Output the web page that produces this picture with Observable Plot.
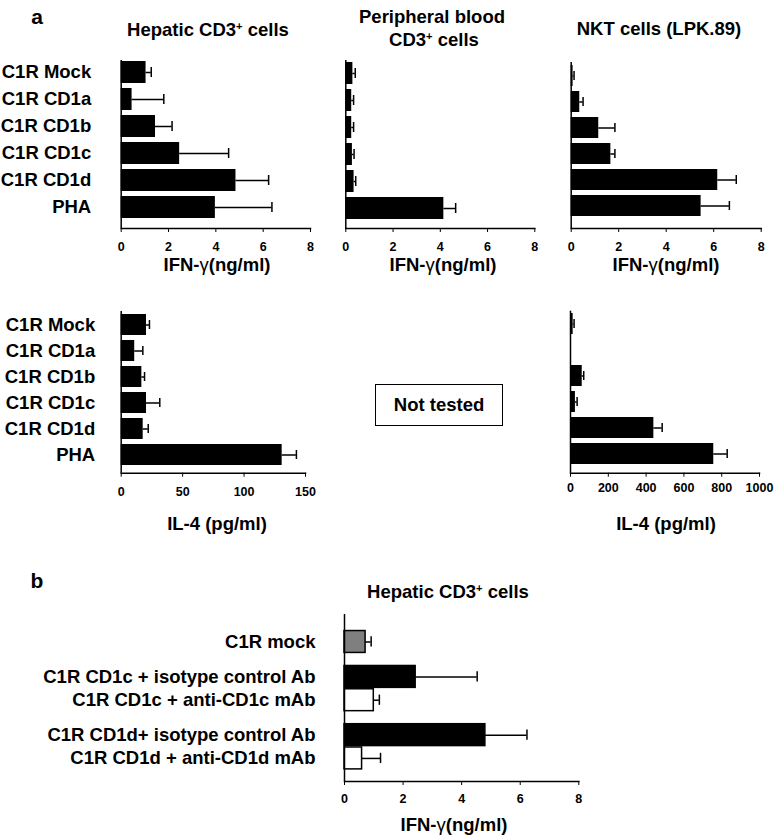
<!DOCTYPE html>
<html><head><meta charset="utf-8">
<script src="https://cdn.jsdelivr.net/npm/d3@7"></script>
<script src="https://cdn.jsdelivr.net/npm/@observablehq/plot@0.6"></script>
<style>
body{margin:0;background:#fff;}
#fig{position:relative;width:777px;height:840px;font-family:"Liberation Sans",Arial,Helvetica,sans-serif;font-weight:bold;color:#000;overflow:hidden;background:#fff}
.lbl{position:absolute;white-space:nowrap;transform:translate(-50%,-50%);line-height:1}
.g{font-weight:normal}
.pl{position:absolute}
.nt{position:absolute;border:1.5px solid #000;box-sizing:border-box;display:flex;align-items:center;justify-content:center;font-size:18.5px}
</style></head><body><div id="fig"></div>
<script>
// ---- data ----
const cellLines = ["C1R Mock","C1R CD1a","C1R CD1b","C1R CD1c","C1R CD1d","PHA"];
const ifnTicks = [0,2,4,6,8];
const il4HepTicks = [0,50,100,150];
const il4NktTicks = [0,200,400,600,800,1000];

// IFN-γ (ng/ml): bar value and upper end of error bar
const hepIfn   = [1.05,0.46,1.45,2.47,4.85,3.98];
const hepIfnHi = [1.27,1.80,2.15,4.54,6.23,6.37];
const pbIfn    = [0.30,0.25,0.25,0.28,0.35,4.15];
const pbIfnHi  = [0.40,0.33,0.33,0.35,0.42,4.65];
const nktIfn   = [0.08,0.36,1.16,1.67,6.17,5.47];
const nktIfnHi = [0.12,0.50,1.84,1.84,6.95,6.66];
// IL-4 (pg/ml)
const hepIl4   = [20.6,11.0,16.8,20.6,17.9,131];
const hepIl4Hi = [23.0,17.6,19.0,31.4,22.0,142.6];
const nktIl4   = [14,0,62,26,441,758];
const nktIl4Hi = [19,0,70,35,485,829];

// panel b
const bLabels = ["C1R mock","C1R CD1c + isotype control Ab","C1R CD1c + anti-CD1c mAb","C1R CD1d+ isotype control Ab","C1R CD1d + anti-CD1d mAb"];
const bGroup = [0,1,1,2,2];
const bTreatment = ["mock","isotype","anti","isotype","anti"];
const bIfn   = [0.72,2.43,1.00,4.81,0.60];
const bIfnHi = [0.91,4.53,1.19,6.23,1.23];

// ---- drawing ----
const fig = document.getElementById("fig");
const FONT = '"Liberation Sans", Arial, Helvetica, sans-serif';
const TICKFS = 12.5;

function addLabel(html, cx, cy, size) {
  const d = document.createElement("div");
  d.className = "lbl";
  d.style.left = cx + "px"; d.style.top = cy + "px"; d.style.fontSize = size + "px";
  d.innerHTML = html;
  fig.appendChild(d);
}
function place(svg, L, T) {
  svg.classList.add("pl");
  svg.style.left = L + "px"; svg.style.top = T + "px";
  fig.appendChild(svg);
}

function hbarPanel(o) {
  const rows = o.cats.map((c, i) => ({cat: c, v: o.vals[i], hi: o.his[i]}));
  const err = rows.filter(d => d.hi > d.v);
  const [L, T, W, H] = o.box;
  const marks = [
    Plot.barX(rows, {x: "v", y: "cat", fill: "black"}),
    Plot.ruleY(err, {y: "cat", x1: "v", x2: "hi", stroke: "black", strokeWidth: 1.5}),
    Plot.tickX(err, {x: "hi", y: "cat", insetTop: 6, insetBottom: 6, stroke: "black", strokeWidth: 1.5}),
    Plot.ruleX([0], {stroke: "black", strokeWidth: 1.5}),
    Plot.frame({anchor: "bottom", stroke: "black", strokeWidth: 1.5}),
    Plot.axisX({ticks: o.ticks, tickSize: 4, tickPadding: o.tickPad, fontSize: TICKFS, label: null, tickFormat: d => String(d)})
  ];
  if (o.showY) marks.push(Plot.axisY({tickSize: 0, tickPadding: o.yPad, fontSize: 18.5, label: null}));
  const svg = Plot.plot({
    width: W, height: H,
    marginLeft: o.x0 - L, marginRight: L + W - o.x1,
    marginTop: o.yTop - T, marginBottom: T + H - o.yAxis,
    style: {fontFamily: FONT, fontWeight: "bold", background: "transparent", overflow: "visible", color: "black", fontSize: "12px"},
    x: {domain: o.domain},
    y: {type: "band", domain: o.cats, paddingInner: 0.18, paddingOuter: 0,
        insetTop: o.b0 - o.yTop, insetBottom: o.yAxis - o.b1, axis: o.showY ? undefined : null},
    marks
  });
  place(svg, L, T);
}

// panel a, row 1 (IFN-γ)
hbarPanel({cats: cellLines, vals: hepIfn, his: hepIfnHi, domain: [0,8], ticks: ifnTicks,
  box: [0,45,325,215], x0: 120.7, x1: 310, yTop: 60, yAxis: 228, b0: 61, b1: 219, tickPad: 10, showY: true, yPad: 30});
hbarPanel({cats: cellLines, vals: pbIfn, his: pbIfnHi, domain: [0,8], ticks: ifnTicks,
  box: [335,45,215,215], x0: 345.3, x1: 534.3, yTop: 60, yAxis: 228, b0: 61, b1: 220, tickPad: 10, showY: false});
hbarPanel({cats: cellLines, vals: nktIfn, his: nktIfnHi, domain: [0,8], ticks: ifnTicks,
  box: [560,45,217,215], x0: 570.7, x1: 760.7, yTop: 62, yAxis: 228, b0: 63, b1: 219, tickPad: 10, showY: false});
// panel a, row 2 (IL-4)
hbarPanel({cats: cellLines, vals: hepIl4, his: hepIl4Hi, domain: [0,150], ticks: il4HepTicks,
  box: [0,295,325,210], x0: 120.7, x1: 305, yTop: 311, yAxis: 472.7, b0: 312.7, b1: 466.7, tickPad: 10, showY: true, yPad: 26});
hbarPanel({cats: cellLines, vals: nktIl4, his: nktIl4Hi, domain: [0,1000], ticks: il4NktTicks,
  box: [555,295,222,210], x0: 570, x1: 759, yTop: 310.7, yAxis: 472.7, b0: 311.7, b1: 465.7, tickPad: 6, showY: false});

// panel b
(function () {
  const rows = [];
  let pos = 0;
  bLabels.forEach((lab, i) => {
    if (i > 0) pos += (bGroup[i] !== bGroup[i-1]) ? 1.5 : 1;
    rows.push({label: lab, pos, v: bIfn[i], hi: bIfnHi[i], t: bTreatment[i]});
  });
  const fillOf = {mock: "#7f7f7f", isotype: "black", anti: "white"};
  const L = 0, T = 600, W = 600, H = 210, x0 = 344, x1 = 578.3, yTop = 614, yAxis = 781;
  const svg = Plot.plot({
    width: W, height: H,
    marginLeft: x0 - L, marginRight: L + W - x1, marginTop: yTop - T, marginBottom: T + H - yAxis,
    style: {fontFamily: FONT, fontWeight: "bold", background: "transparent", overflow: "visible", color: "black", fontSize: "12px"},
    x: {domain: [0, 8]},
    y: {domain: [-1.18, 5.99], reverse: true, axis: null},
    marks: [
      Plot.rectX(rows, {x1: 0, x2: "v", y1: d => d.pos - 0.47, y2: d => d.pos + 0.47,
        fill: d => fillOf[d.t], stroke: "black", strokeWidth: 1.5}),
      Plot.ruleY(rows, {y: "pos", x1: "v", x2: "hi", stroke: "black", strokeWidth: 1.5}),
      Plot.ruleX(rows, {x: "hi", y1: d => d.pos - 0.22, y2: d => d.pos + 0.22, stroke: "black", strokeWidth: 1.5}),
      Plot.ruleX([0], {stroke: "black", strokeWidth: 1.5}),
      Plot.frame({anchor: "bottom", stroke: "black", strokeWidth: 1.5}),
      Plot.axisX({ticks: ifnTicks, tickSize: 4, tickPadding: 9, fontSize: TICKFS, label: null, tickFormat: d => String(d)}),
      Plot.text(rows, {y: "pos", text: "label", frameAnchor: "left", textAnchor: "end", dx: -29, fontSize: 18.5, fill: "black"})
    ]
  });
  place(svg, L, T);
})();

// text annotations
const SUP = "<sup style='font-size:0.6em;vertical-align:0.5em'>+</sup>";
addLabel("a", 37, 16, 21);
addLabel("b", 37, 580, 21);
addLabel("Hepatic CD3" + SUP + " cells", 208, 30, 18.5);
addLabel("Peripheral blood", 432, 17, 18.5);
addLabel("CD3" + SUP + " cells", 434, 40, 18.5);
addLabel("NKT cells (LPK.89)", 659, 29, 18.5);
addLabel("IFN-<span class='g'>γ</span>(ng/ml)", 217, 265, 18.5);
addLabel("IFN-<span class='g'>γ</span>(ng/ml)", 443, 265, 18.5);
addLabel("IFN-<span class='g'>γ</span>(ng/ml)", 666, 265, 18.5);
addLabel("IL-4 (pg/ml)", 217, 524, 18.5);
addLabel("IL-4 (pg/ml)", 666, 524, 18.5);
addLabel("Hepatic CD3" + SUP + " cells", 448, 592, 18.5);
addLabel("IFN-<span class='g'>γ</span>(ng/ml)", 454, 825, 18.5);

const nt = document.createElement("div");
nt.className = "nt";
nt.style.left = "375px"; nt.style.top = "384px"; nt.style.width = "128px"; nt.style.height = "42px";
nt.textContent = "Not tested";
fig.appendChild(nt);
</script></body></html>
